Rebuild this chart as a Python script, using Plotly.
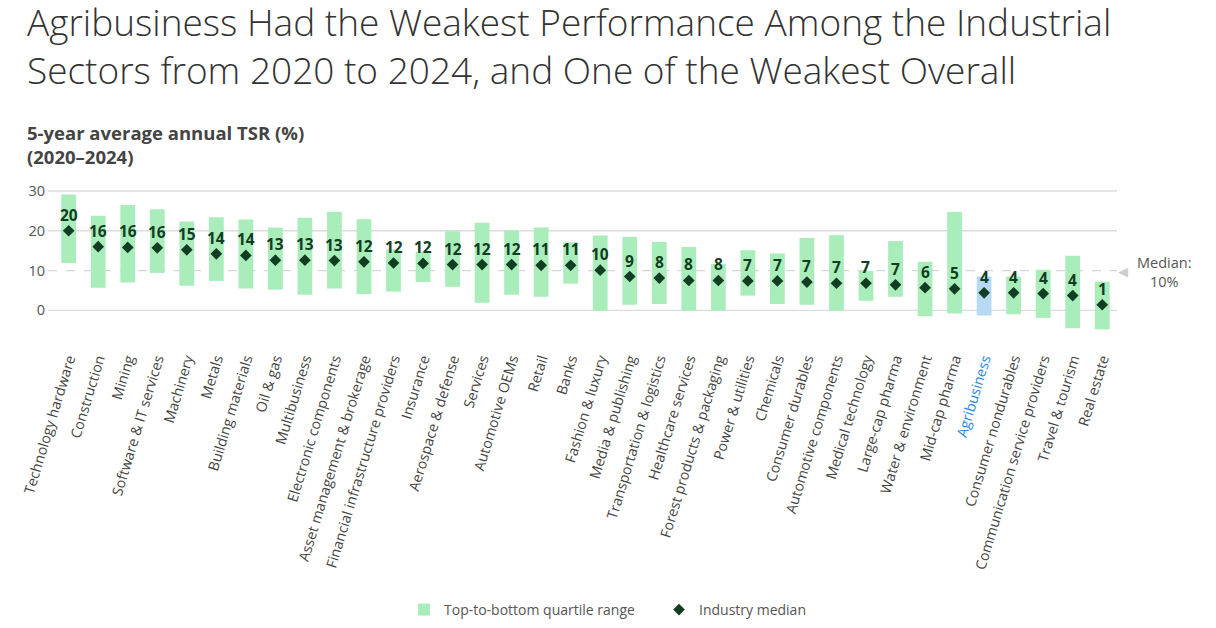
import plotly.graph_objects as go

categories = [
    "Technology hardware", "Construction", "Mining", "Software & IT services", "Machinery",
    "Metals", "Building materials", "Oil & gas", "Multibusiness", "Electronic components",
    "Asset management & brokerage", "Financial infrastructure providers", "Insurance",
    "Aerospace & defense", "Services", "Automotive OEMs", "Retail", "Banks",
    "Fashion & luxury", "Media & publishing", "Transportation & logistics",
    "Healthcare services", "Forest products & packaging", "Power & utilities", "Chemicals",
    "Consumer durables", "Automotive components", "Medical technology", "Large-cap pharma",
    "Water & environment", "Mid-cap pharma", "Agribusiness", "Consumer nondurables",
    "Communication service providers", "Travel & tourism", "Real estate",
]
q_top = [29.1, 23.8, 26.5, 25.4, 22.3, 23.4, 22.8, 20.8, 23.3, 24.8, 22.9, 15.3, 14.7,
         19.9, 22.0, 20.0, 20.8, 17.1, 18.8, 18.4, 17.2, 15.9, 11.7, 15.1, 14.3, 18.2,
         18.9, 9.9, 17.4, 12.2, 24.7, 8.5, 8.5, 10.2, 13.7, 7.2]
q_bottom = [11.9, 5.7, 7.0, 9.4, 6.2, 7.4, 5.5, 5.2, 3.9, 5.5, 4.1, 4.7, 7.1,
            5.9, 1.9, 3.9, 3.4, 6.7, -0.1, 1.4, 1.6, -0.1, -0.1, 3.7, 1.6, 1.4,
            -0.1, 2.4, 3.4, -1.5, -0.8, -1.3, -1.0, -1.9, -4.5, -4.8]
medians = [20.0, 16.0, 15.8, 15.7, 15.2, 14.2, 13.8, 12.6, 12.6, 12.5, 12.2, 11.9, 11.8,
           11.5, 11.5, 11.5, 11.3, 11.3, 10.1, 8.5, 8.1, 7.5, 7.5, 7.4, 7.4, 7.1,
           6.8, 6.8, 6.4, 5.7, 5.4, 4.4, 4.4, 4.2, 3.7, 1.4]
median_labels = ["20", "16", "16", "16", "15", "14", "14", "13", "13", "13", "12", "12", "12",
                 "12", "12", "12", "11", "11", "10", "9", "8", "8", "8", "7", "7", "7",
                 "7", "7", "7", "6", "5", "4", "4", "4", "4", "1"]
overall_median = 10
y_ticks = [0, 10, 20, 30]
highlight = "Agribusiness"

GREEN = "#A8EDBA"
BLUE = "#B7D9F6"
DARK = "#123D22"
HL_TEXT = "#1E88E5"
FONT = "Open Sans"

W, H = 1216, 628


def px_x(px):
    return (px - 48) / 1069


def px_y(py):
    return (331.5 - py) / 144.8


bar_colors = [BLUE if c == highlight else GREEN for c in categories]
tick_text = [f'<span style="color:{HL_TEXT}">{c}</span>' if c == highlight else c
             for c in categories]

fig = go.Figure()
fig.add_trace(go.Bar(
    x=categories, y=[t - b for t, b in zip(q_top, q_bottom)], base=q_bottom,
    marker=dict(color=bar_colors, line=dict(width=0)), width=0.5,
    name="Top-to-bottom quartile range", hoverinfo="skip",
))
fig.add_trace(go.Scatter(
    x=categories, y=medians, mode="markers",
    marker=dict(symbol="diamond", size=9, color=DARK),
    name="Industry median",
))

shapes = []
for v in [0, 20, 30]:
    shapes.append(dict(type="line", xref="paper", x0=0, x1=1, yref="y", y0=v, y1=v,
                       line=dict(color="#DCDCDC", width=1.3), layer="below"))
shapes.append(dict(type="line", xref="paper", x0=0, x1=1, yref="y", y0=overall_median,
                   y1=overall_median, line=dict(color="#D6D6D6", width=1.3, dash="dash"),
                   layer="below"))

annotations = [
    dict(text="Agribusiness Had the Weakest Performance Among the Industrial<br>"
              "Sectors from 2020 to 2024, and One of the Weakest Overall",
         xref="paper", yref="paper", x=px_x(25), y=px_y(-7), xanchor="left",
         yanchor="top", align="left", showarrow=False,
         font=dict(family=FONT, size=37, color="#333", weight=300)),
    dict(text="<b>5-year average annual TSR (%)<br>(2020–2024)</b>",
         xref="paper", yref="paper", x=px_x(25), y=px_y(117), xanchor="left",
         yanchor="top", align="left", showarrow=False,
         font=dict(family=FONT, size=18.5, color="#444")),
    dict(text="◀", xref="paper", yref="y", x=px_x(1116), y=overall_median, xanchor="left",
         yanchor="middle", showarrow=False, font=dict(size=13, color="#CFCFCF")),
    dict(text="Median:<br>10%", xref="paper", yref="y", x=px_x(1164),
         y=overall_median - 0.3, xanchor="center", yanchor="middle", showarrow=False,
         align="center", font=dict(family=FONT, size=14.5, color="#555")),
]
for c, m, lab in zip(categories, medians, median_labels):
    annotations.append(dict(
        x=c, y=m, text=lab, xref="x", yref="y", showarrow=False, yshift=16,
        xanchor="center", yanchor="middle",
        font=dict(family=FONT, size=15.5, color=DARK, weight="bold"),
    ))

fig.update_layout(
    width=W, height=H,
    margin=dict(l=48, r=99, t=186.7, b=296.5),
    plot_bgcolor="white", paper_bgcolor="white",
    font=dict(family=FONT, color="#444"),
    showlegend=True,
    legend=dict(orientation="h", xref="container", yref="container",
                x=404 / W, y=1 - 610 / H, xanchor="left", yanchor="middle",
                entrywidth=210,
                font=dict(family=FONT, size=14, color="#555"), itemwidth=30),
    shapes=shapes,
    annotations=annotations,
    xaxis=dict(
        range=[-0.7, 35.5], tickmode="array", tickvals=categories, ticktext=tick_text,
        tickangle=-73, tickfont=dict(family=FONT, size=14.3, color="#444"),
        showgrid=False, zeroline=False, showline=False, ticks="",
        ticklabelstandoff=16,
    ),
    yaxis=dict(
        range=[-5.2, 31], tickmode="array", tickvals=y_ticks,
        tickfont=dict(family=FONT, size=14.5, color="#555"),
        showgrid=False, zeroline=False, showline=False, ticks="",
        ticklabelstandoff=2,
    ),
)

fig.write_html("out.html", config={"displayModeBar": False},
               post_script="document.body.style.margin='0';document.body.style.overflow='hidden';")
